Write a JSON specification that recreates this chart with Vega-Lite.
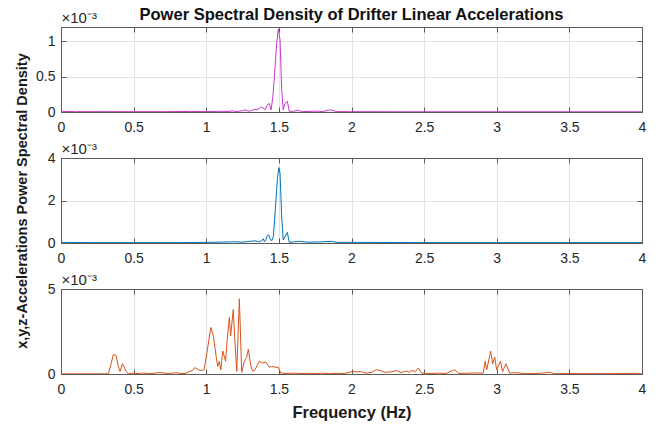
{
  "$schema": "https://vega.github.io/schema/vega-lite/v6.json",
  "background": "white",
  "padding": {"left": 13, "top": 6, "right": 8, "bottom": 4},
  "bounds": "flush",
  "spacing": 46,
  "config": {
    "font": "Liberation Sans",
    "view": {"stroke": "#5a5a5a", "strokeWidth": 1},
    "axis": {
      "labelFont": "Liberation Sans", "labelFontSize": 14, "labelColor": "#262626", "labelFlush": false,
      "titleFont": "Liberation Sans", "titleColor": "#1a1a1a",
      "domainColor": "#5a5a5a", "tickColor": "#5a5a5a", "tickSize": -5,
      "gridColor": "#e2e2e2", "gridWidth": 1
    },
    "title": {"font": "Liberation Sans", "fontSize": 16.5, "fontWeight": "bold", "color": "#111"}
  },
  "datasets": {
    "x": [
      {"f": 0, "v": 0.01}, {"f": 0.1, "v": 0.005}, {"f": 0.3, "v": 0.005}, {"f": 0.5, "v": 0.005},
      {"f": 0.7, "v": 0.005}, {"f": 0.9, "v": 0.008}, {"f": 1.0, "v": 0.005}, {"f": 1.1, "v": 0.01},
      {"f": 1.15, "v": 0.008}, {"f": 1.18, "v": 0.015}, {"f": 1.2, "v": 0.008}, {"f": 1.23, "v": 0.01},
      {"f": 1.25, "v": 0.02}, {"f": 1.27, "v": 0.03}, {"f": 1.29, "v": 0.01}, {"f": 1.31, "v": 0.02},
      {"f": 1.335, "v": 0.04}, {"f": 1.35, "v": 0.03}, {"f": 1.365, "v": 0.05}, {"f": 1.38, "v": 0.07},
      {"f": 1.39, "v": 0.06}, {"f": 1.405, "v": 0.03}, {"f": 1.42, "v": 0.1}, {"f": 1.434, "v": 0.12},
      {"f": 1.446, "v": 0.03}, {"f": 1.458, "v": 0.2}, {"f": 1.469, "v": 0.49}, {"f": 1.485, "v": 0.97},
      {"f": 1.496, "v": 1.17}, {"f": 1.508, "v": 1.02}, {"f": 1.519, "v": 0.33}, {"f": 1.53, "v": 0.03},
      {"f": 1.542, "v": 0.12}, {"f": 1.558, "v": 0.15}, {"f": 1.572, "v": 0.01}, {"f": 1.6, "v": 0.01},
      {"f": 1.634, "v": 0.025}, {"f": 1.66, "v": 0.005}, {"f": 1.7, "v": 0.008}, {"f": 1.77, "v": 0.012},
      {"f": 1.8, "v": 0.005}, {"f": 1.85, "v": 0.03}, {"f": 1.865, "v": 0.025}, {"f": 1.9, "v": 0.005},
      {"f": 2.0, "v": 0.004}, {"f": 2.5, "v": 0.003}, {"f": 3.0, "v": 0.003}, {"f": 3.5, "v": 0.003},
      {"f": 4.0, "v": 0.003}
    ],
    "y": [
      {"f": 0, "v": 0.03}, {"f": 0.2, "v": 0.02}, {"f": 0.5, "v": 0.02}, {"f": 0.8, "v": 0.02},
      {"f": 1.0, "v": 0.03}, {"f": 1.1, "v": 0.04}, {"f": 1.2, "v": 0.06}, {"f": 1.25, "v": 0.04},
      {"f": 1.3, "v": 0.08}, {"f": 1.335, "v": 0.1}, {"f": 1.36, "v": 0.06}, {"f": 1.38, "v": 0.1},
      {"f": 1.393, "v": 0.2}, {"f": 1.4, "v": 0.06}, {"f": 1.41, "v": 0.14}, {"f": 1.42, "v": 0.35},
      {"f": 1.43, "v": 0.38}, {"f": 1.44, "v": 0.2}, {"f": 1.45, "v": 0.1}, {"f": 1.462, "v": 0.3},
      {"f": 1.473, "v": 1.32}, {"f": 1.49, "v": 3.04}, {"f": 1.5, "v": 3.55}, {"f": 1.508, "v": 3.29},
      {"f": 1.519, "v": 1.3}, {"f": 1.53, "v": 0.14}, {"f": 1.542, "v": 0.3}, {"f": 1.558, "v": 0.5},
      {"f": 1.572, "v": 0.03}, {"f": 1.6, "v": 0.05}, {"f": 1.64, "v": 0.08}, {"f": 1.7, "v": 0.04},
      {"f": 1.78, "v": 0.05}, {"f": 1.86, "v": 0.08}, {"f": 1.9, "v": 0.03}, {"f": 2.0, "v": 0.03},
      {"f": 2.5, "v": 0.02}, {"f": 3.0, "v": 0.02}, {"f": 3.5, "v": 0.02}, {"f": 4.0, "v": 0.02}
    ],
    "z": [
      {"f": 0, "v": 0.01}, {"f": 0.1, "v": 0.01}, {"f": 0.2, "v": 0.01}, {"f": 0.3, "v": 0.01},
      {"f": 0.326, "v": 0.02}, {"f": 0.345, "v": 0.6}, {"f": 0.36, "v": 1.15}, {"f": 0.378, "v": 1.1},
      {"f": 0.395, "v": 0.45}, {"f": 0.406, "v": 0.15}, {"f": 0.424, "v": 0.61}, {"f": 0.448, "v": 0.15},
      {"f": 0.464, "v": 0.02}, {"f": 0.5, "v": 0.05}, {"f": 0.53, "v": 0.02}, {"f": 0.567, "v": 0.06},
      {"f": 0.6, "v": 0.02}, {"f": 0.64, "v": 0.04}, {"f": 0.68, "v": 0.1}, {"f": 0.7, "v": 0.06},
      {"f": 0.74, "v": 0.03}, {"f": 0.8, "v": 0.08}, {"f": 0.82, "v": 0.02}, {"f": 0.86, "v": 0.04},
      {"f": 0.888, "v": 0.16}, {"f": 0.905, "v": 0.2}, {"f": 0.922, "v": 0.38}, {"f": 0.945, "v": 0.25},
      {"f": 0.965, "v": 0.2}, {"f": 0.985, "v": 0.25}, {"f": 1.003, "v": 1.15}, {"f": 1.031, "v": 2.74},
      {"f": 1.049, "v": 2.24}, {"f": 1.068, "v": 1.05}, {"f": 1.079, "v": 0.45}, {"f": 1.09, "v": 0.75},
      {"f": 1.1, "v": 0.25}, {"f": 1.114, "v": 1.35}, {"f": 1.124, "v": 1.05}, {"f": 1.133, "v": 0.75},
      {"f": 1.143, "v": 1.9}, {"f": 1.159, "v": 3.33}, {"f": 1.168, "v": 2.24}, {"f": 1.186, "v": 3.79},
      {"f": 1.198, "v": 1.84}, {"f": 1.21, "v": 0.16}, {"f": 1.228, "v": 4.42}, {"f": 1.244, "v": 0.1},
      {"f": 1.262, "v": 0.75}, {"f": 1.278, "v": 0.97}, {"f": 1.29, "v": 1.45}, {"f": 1.306, "v": 0.5},
      {"f": 1.32, "v": 0.16}, {"f": 1.336, "v": 0.25}, {"f": 1.35, "v": 0.5}, {"f": 1.366, "v": 0.75},
      {"f": 1.389, "v": 0.65}, {"f": 1.41, "v": 0.7}, {"f": 1.434, "v": 0.4}, {"f": 1.45, "v": 0.45},
      {"f": 1.473, "v": 0.4}, {"f": 1.496, "v": 0.4}, {"f": 1.513, "v": 0.05}, {"f": 1.55, "v": 0.03},
      {"f": 1.6, "v": 0.05}, {"f": 1.65, "v": 0.03}, {"f": 1.7, "v": 0.04}, {"f": 1.75, "v": 0.02},
      {"f": 1.8, "v": 0.05}, {"f": 1.85, "v": 0.02}, {"f": 1.9, "v": 0.04}, {"f": 1.95, "v": 0.02},
      {"f": 2.01, "v": 0.15}, {"f": 2.04, "v": 0.12}, {"f": 2.06, "v": 0.15}, {"f": 2.1, "v": 0.05},
      {"f": 2.14, "v": 0.1}, {"f": 2.17, "v": 0.26}, {"f": 2.2, "v": 0.2}, {"f": 2.23, "v": 0.1},
      {"f": 2.27, "v": 0.12}, {"f": 2.31, "v": 0.2}, {"f": 2.34, "v": 0.08}, {"f": 2.38, "v": 0.18},
      {"f": 2.4, "v": 0.08}, {"f": 2.41, "v": 0.2}, {"f": 2.44, "v": 0.15}, {"f": 2.46, "v": 0.36},
      {"f": 2.483, "v": 0.05}, {"f": 2.55, "v": 0.03}, {"f": 2.6, "v": 0.05}, {"f": 2.65, "v": 0.03},
      {"f": 2.71, "v": 0.25}, {"f": 2.74, "v": 0.03}, {"f": 2.8, "v": 0.05}, {"f": 2.86, "v": 0.06},
      {"f": 2.907, "v": 0.05}, {"f": 2.92, "v": 0.75}, {"f": 2.931, "v": 0.25}, {"f": 2.958, "v": 1.35},
      {"f": 2.972, "v": 0.6}, {"f": 2.986, "v": 1.0}, {"f": 2.999, "v": 0.25}, {"f": 3.026, "v": 0.75},
      {"f": 3.04, "v": 0.15}, {"f": 3.063, "v": 0.6}, {"f": 3.09, "v": 0.05}, {"f": 3.12, "v": 0.08},
      {"f": 3.16, "v": 0.05}, {"f": 3.2, "v": 0.02}, {"f": 3.3, "v": 0.04}, {"f": 3.367, "v": 0.1},
      {"f": 3.4, "v": 0.02}, {"f": 3.5, "v": 0.03}, {"f": 3.6, "v": 0.02}, {"f": 3.7, "v": 0.02},
      {"f": 3.8, "v": 0.02}, {"f": 3.96, "v": 0.04}, {"f": 4.0, "v": 0.01}
    ]
  },
  "vconcat": [
    {
      "width": 581, "height": 85,
      "title": {"text": "Power Spectral Density of Drifter Linear Accelerations", "anchor": "middle", "frame": "group", "offset": -13},
      "data": {"name": "x"},
      "layer": [
        {
          "mark": {"type": "line", "color": "#CC33CC", "strokeWidth": 1, "clip": true},
          "encoding": {
            "x": {"field": "f", "type": "quantitative", "scale": {"domain": [0, 4]},
                  "axis": {"orient": "bottom", "values": [0, 0.5, 1, 1.5, 2, 2.5, 3, 3.5, 4], "format": "~g", "title": null, "labelPadding": 13}},
            "y": {"field": "v", "type": "quantitative", "scale": {"domain": [0, 1.15]},
                  "axis": {"orient": "left", "values": [0, 0.5, 1], "format": "~g", "title": null, "labelPadding": 11}}
          }
        },
        {
          "mark": {"type": "line", "opacity": 0},
          "encoding": {
            "x": {"field": "f", "type": "quantitative",
                  "axis": {"orient": "top", "values": [0, 0.5, 1, 1.5, 2, 2.5, 3, 3.5, 4], "labels": false, "grid": false,
                           "title": "×10⁻³", "titleFontWeight": "normal", "titleFontSize": 15, "titleColor": "#262626",
                           "titleAnchor": "start", "titleAlign": "left", "titleX": 0, "titleY": -2, "titleBaseline": "bottom"}},
            "y": {"field": "v", "type": "quantitative",
                  "axis": {"orient": "right", "values": [0, 0.5, 1], "labels": false, "grid": false, "title": null}}
          }
        }
      ],
      "resolve": {"axis": {"x": "independent", "y": "independent"}}
    },
    {
      "width": 581, "height": 85,
      "data": {"name": "y"},
      "layer": [
        {
          "mark": {"type": "line", "color": "#0072BD", "strokeWidth": 1, "clip": true},
          "encoding": {
            "x": {"field": "f", "type": "quantitative", "scale": {"domain": [0, 4]},
                  "axis": {"orient": "bottom", "values": [0, 0.5, 1, 1.5, 2, 2.5, 3, 3.5, 4], "format": "~g", "title": null, "labelPadding": 13}},
            "y": {"field": "v", "type": "quantitative", "scale": {"domain": [0, 4]},
                  "axis": {"orient": "left", "values": [0, 2, 4], "format": "~g", "labelPadding": 11,
                           "title": "x,y,z-Accelerations Power Spectral Density", "titleFontSize": 14.5, "titleFontWeight": "bold",
                           "titleX": -32, "titleY": 42.5, "titleAngle": -90, "titleAlign": "center", "titleBaseline": "bottom"}}
          }
        },
        {
          "mark": {"type": "line", "opacity": 0},
          "encoding": {
            "x": {"field": "f", "type": "quantitative",
                  "axis": {"orient": "top", "values": [0, 0.5, 1, 1.5, 2, 2.5, 3, 3.5, 4], "labels": false, "grid": false,
                           "title": "×10⁻³", "titleFontWeight": "normal", "titleFontSize": 15, "titleColor": "#262626",
                           "titleAnchor": "start", "titleAlign": "left", "titleX": 0, "titleY": -2, "titleBaseline": "bottom"}},
            "y": {"field": "v", "type": "quantitative",
                  "axis": {"orient": "right", "values": [0, 2, 4], "labels": false, "grid": false, "title": null}}
          }
        }
      ],
      "resolve": {"axis": {"x": "independent", "y": "independent"}}
    },
    {
      "width": 581, "height": 85,
      "data": {"name": "z"},
      "layer": [
        {
          "mark": {"type": "line", "color": "#D95319", "strokeWidth": 1, "clip": true},
          "encoding": {
            "x": {"field": "f", "type": "quantitative", "scale": {"domain": [0, 4]},
                  "axis": {"orient": "bottom", "values": [0, 0.5, 1, 1.5, 2, 2.5, 3, 3.5, 4], "format": "~g", "labelPadding": 13,
                           "title": "Frequency (Hz)", "titleFontSize": 16.5, "titleFontWeight": "bold", "titlePadding": 8}},
            "y": {"field": "v", "type": "quantitative", "scale": {"domain": [0, 5]},
                  "axis": {"orient": "left", "values": [0, 5], "format": "~g", "title": null, "labelPadding": 11}}
          }
        },
        {
          "mark": {"type": "line", "opacity": 0},
          "encoding": {
            "x": {"field": "f", "type": "quantitative",
                  "axis": {"orient": "top", "values": [0, 0.5, 1, 1.5, 2, 2.5, 3, 3.5, 4], "labels": false, "grid": false,
                           "title": "×10⁻³", "titleFontWeight": "normal", "titleFontSize": 15, "titleColor": "#262626",
                           "titleAnchor": "start", "titleAlign": "left", "titleX": 0, "titleY": -2, "titleBaseline": "bottom"}},
            "y": {"field": "v", "type": "quantitative",
                  "axis": {"orient": "right", "values": [0, 5], "labels": false, "grid": false, "title": null}}
          }
        }
      ],
      "resolve": {"axis": {"x": "independent", "y": "independent"}}
    }
  ]
}
